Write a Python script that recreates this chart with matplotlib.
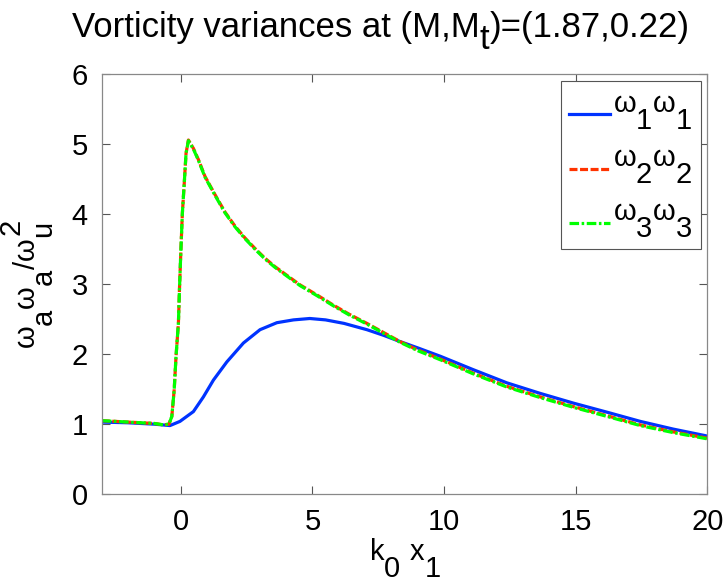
import matplotlib
matplotlib.use("Agg")
import matplotlib.pyplot as plt
from matplotlib import _mathtext
from matplotlib.legend_handler import HandlerLine2D

# MATLAB-style tex: sub/superscripts at full size and dropped low
_mathtext.SHRINK_FACTOR = 1.0
_mathtext.FontConstantsBase.sub1 = 1.1
_mathtext.FontConstantsBase.sub2 = 1.1
_mathtext.FontConstantsBase.sup1 = 0.9

plt.rcParams["font.family"] = "Liberation Sans"
plt.rcParams["mathtext.fontset"] = "custom"
plt.rcParams["mathtext.rm"] = "Liberation Sans"
plt.rcParams["mathtext.it"] = "Liberation Sans"
plt.rcParams["mathtext.bf"] = "Liberation Sans:bold"

# values
x_w1 = [-3, -2, -1, -0.41, -0.03, 0.48, 0.86, 1.24, 1.75, 2.38, 3.01, 3.65, 4.28, 4.9,
        5.5, 6.2, 7.07, 7.7, 8.33, 9.0, 9.86, 11.1, 12.39, 13.65, 14.92, 16.2, 17.45,
        18.7, 20]
w1w1 = [1.03, 1.02, 1.0, 0.98, 1.04, 1.18, 1.39, 1.63, 1.89, 2.16, 2.35, 2.45, 2.49, 2.51,
        2.49, 2.44, 2.35, 2.27, 2.18, 2.09, 1.97, 1.78, 1.59, 1.44, 1.30, 1.17, 1.04,
        0.93, 0.83]

x_w23 = [-3, -2, -1, -0.66, -0.45, -0.34, -0.25, -0.18, -0.09, -0.05, 0.01, 0.06, 0.14,
         0.2, 0.29, 0.48, 0.67, 0.92, 1.3, 1.68, 2.06, 2.44, 2.82, 3.2, 3.58, 4.09, 4.53,
         5.2, 5.8, 6.4, 7.07, 7.7, 8.33, 9.0, 9.86, 11.1, 12.39, 13.65, 14.92, 16.2, 17.45,
         18.7, 20]
w2w2 = [1.05, 1.03, 1.01, 0.99, 1.0, 1.11, 1.49, 1.97, 2.44, 2.92, 3.54, 4.01, 4.49,
        4.87, 5.06, 4.94, 4.78, 4.54, 4.28, 4.03, 3.83, 3.66, 3.51, 3.37, 3.25, 3.11, 2.99,
        2.84, 2.70, 2.57, 2.44, 2.31, 2.18, 2.06, 1.93, 1.73, 1.54, 1.39, 1.25, 1.12, 0.99,
        0.89, 0.80]
w3w3 = [1.05, 1.03, 1.01, 0.99, 1.0, 1.11, 1.49, 1.97, 2.44, 2.92, 3.54, 4.01, 4.49,
        4.87, 5.05, 4.93, 4.77, 4.53, 4.27, 4.02, 3.82, 3.65, 3.50, 3.36, 3.24, 3.10, 2.98,
        2.83, 2.69, 2.56, 2.43, 2.30, 2.17, 2.05, 1.92, 1.72, 1.53, 1.38, 1.24, 1.11, 0.98,
        0.88, 0.79]

labels = [r"$\omega_1\omega_1$", r"$\omega_2\omega_2$", r"$\omega_3\omega_3$"]
xticks = [0, 5, 10, 15, 20]
yticks = [0, 1, 2, 3, 4, 5, 6]

W, H = 727, 580
fig = plt.figure(figsize=(W / 100, H / 100), dpi=100)
ax = fig.add_axes([0.140, 0.148, 0.833, 0.724])

ax.plot(x_w1, w1w1, color="#0033ff", lw=2.3, label=labels[0])
ax.plot(x_w23, w2w2, color="#ff3300", lw=2.3, ls=(0, (2.5, 0.8)), label=labels[1])
ax.plot(x_w23, w3w3, color="#00ff00", lw=2.3, ls=(0, (3, 0.8, 0.8, 0.8)), label=labels[2])

ax.set_xlim(-3, 20)
ax.set_ylim(0, 6)
ax.set_xticks(xticks)
ax.set_yticks(yticks)
ax.tick_params(direction="in", top=True, right=True, length=6, width=0.8,
               color="#555555", labelsize=21, pad=10)
for s in ax.spines.values():
    s.set_color("#888888")
    s.set_linewidth(0.9)

# title in three pieces so the "t" subscript can sit a little lower
t1 = fig.text(72 / W, 1 - 44 / H, "Vorticity variances at (M,M", fontsize=25,
              ha="left", va="bottom")
t2 = ax.annotate("t", xy=(1, 0), xycoords=t1, xytext=(0, -12), textcoords="offset pixels",
                 fontsize=25, ha="left", va="bottom", annotation_clip=False)
t3 = ax.annotate(")=(1.87,0.22)", xy=(1, 0), xycoords=t2, xytext=(0, 12),
                 textcoords="offset pixels", fontsize=25, ha="left", va="bottom",
                 annotation_clip=False)

ax.set_xlabel(r"k$_0$ x$_1$", fontsize=21, labelpad=0)
ax.set_ylabel(r"$\omega_a\omega_a/\omega_u^2$", fontsize=21, labelpad=12)


def lower_handle(leg_line, orig):
    leg_line.update_from(orig)
    leg_line.set_ydata(leg_line.get_ydata() - 9)


leg = ax.legend(loc="upper right", fontsize=21, handlelength=1.4, handletextpad=0.1,
                labelspacing=0.43, borderpad=0.3, borderaxespad=0, fancybox=False,
                framealpha=1, bbox_to_anchor=(0.99, 0.983),
                handler_map={plt.Line2D: HandlerLine2D(update_func=lower_handle)})
leg.get_frame().set_edgecolor("#555555")
leg.get_frame().set_linewidth(0.8)

fig.savefig("out.png", dpi=100)
